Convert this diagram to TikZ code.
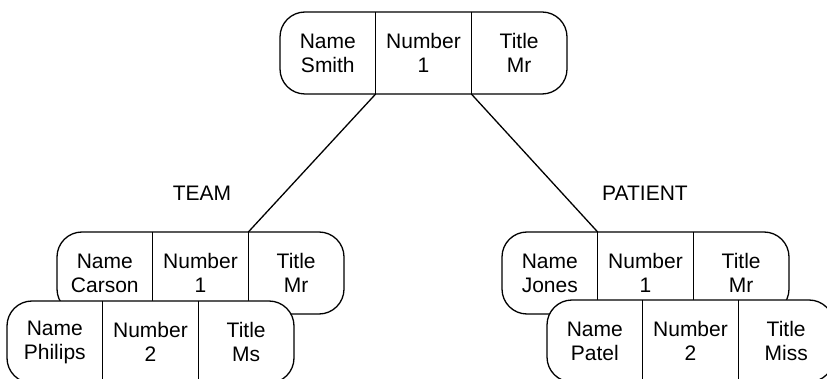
\documentclass[tikz,border=0pt]{standalone}
\usepackage{fontspec}
\setmainfont{Liberation Sans}
\usetikzlibrary{positioning}
\tikzset{
  record/.style={draw,line width=1.3pt,fill=white,rounded corners=25pt},
  cell/.style={align=center,inner sep=0pt,outer sep=0pt,minimum width=95.67pt,minimum height=82pt},
  divider/.style={line width=1.3pt}
}
\begin{document}
\begin{tikzpicture}[x=1pt,y=-1pt,font=\fontsize{21}{24}\selectfont]
  \useasboundingbox (0,0) rectangle (827,379);
  \foreach \n/\x/\y/\a/\b/\c in {smith/280/12/Smith/1/Mr, carson/57/232/Carson/1/Mr, philips/7/301/Philips/2/Ms, jones/502/232/Jones/1/Mr, patel/547/300/Patel/2/Miss} {
    \draw[record] (\x,\y) rectangle ++(287,82);
    \node[cell,anchor=north west] (\n-name) at (\x,\y) {Name\\\a};
    \node[cell,right=0pt of \n-name] (\n-num) {Number\\\b};
    \node[cell,right=0pt of \n-num] (\n-title) {Title\\\c};
    \draw[divider] (\n-num.north west) -- (\n-num.south west) (\n-num.north east) -- (\n-num.south east);
  }
  \draw[divider] (smith-num.south west) -- (carson-title.north west);
  \draw[divider] (smith-num.south east) -- (jones-num.north west);
  \node (team) at (202,193) {TEAM};
  \node (patient) at (645,193) {PATIENT};
\end{tikzpicture}
\end{document}
